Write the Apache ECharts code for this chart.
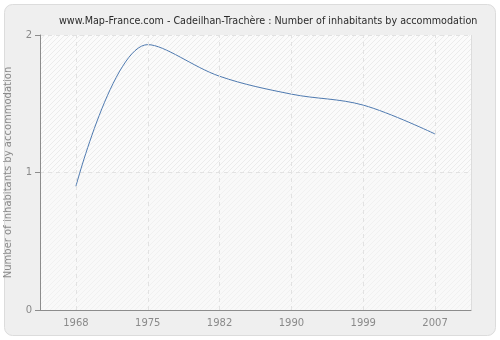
<!DOCTYPE html>
<html lang="en">
  <head>
    <meta charset="UTF-8" />
    <title>Cadeilhan-Trachère</title>
    <style>
      * {
        margin: 0;
        padding: 0;
      }
      body {
        background: #ffffff;
      }
    </style>
  </head>
  <body>
    <div id="main" style="width: 500px; height: 340px;"></div>
    <script src="https://cdn.jsdelivr.net/npm/echarts@6/dist/echarts.min.js"></script>
    <script>
      // data
      let years = ["1968", "1975", "1982", "1990", "1999", "2007"];
      let values = [0.9, 1.93, 1.7, 1.57, 1.49, 1.28];
      let yTicks = [0, 1, 2];

      // hatch pattern for the plot background
      function hatch(bg, line) {
        let c = document.createElement("canvas");
        c.width = 5;
        c.height = 5;
        let ctx = c.getContext("2d");
        ctx.fillStyle = bg;
        ctx.fillRect(0, 0, 5, 5);
        ctx.strokeStyle = line;
        ctx.lineWidth = 1;
        ctx.beginPath();
        ctx.moveTo(0, 5);
        ctx.lineTo(5, 0);
        ctx.moveTo(-1, 1);
        ctx.lineTo(1, -1);
        ctx.moveTo(4, 6);
        ctx.lineTo(6, 4);
        ctx.stroke();
        return c;
      }

      function draw() {
        let myEcharts = echarts.init(document.getElementById("main"));
        let option = {
          backgroundColor: "#ffffff",
          animation: false,
          graphic: [
            {
              type: "rect",
              z: -10,
              shape: { x: 4.5, y: 4.5, width: 491, height: 331, r: 8 },
              style: { fill: "#efefef", stroke: "#dcdcdc", lineWidth: 1 },
            },
            {
              type: "rect",
              z: -9,
              shape: { x: 40, y: 35, width: 431, height: 137.5 },
              style: { fill: { image: hatch("#fbfbfb", "#ececec"), repeat: "repeat" } },
            },
            {
              type: "rect",
              z: -9,
              shape: { x: 40, y: 172.5, width: 431, height: 137.5 },
              style: { fill: { image: hatch("#f9f9f9", "#f1f1f1"), repeat: "repeat" } },
            },
            {
              type: "line",
              z: -8,
              shape: { x1: 471.5, y1: 35, x2: 471.5, y2: 310 },
              style: { stroke: "#dddddd", lineWidth: 1 },
            },
          ],
          title: {
            text: "www.Map-France.com - Cadeilhan-Trachère : Number of inhabitants by accommodation",
            left: 54,
            top: 11,
            textStyle: {
              fontFamily: "DejaVu Sans",
              fontSize: 9.6,
              fontWeight: "normal",
              color: "#2a2a2a",
            },
          },
          grid: {
            left: 40,
            right: 29,
            top: 35,
            bottom: 30,
            outerBoundsMode: "none",
            containLabel: false,
          },
          xAxis: {
            type: "category",
            data: years,
            boundaryGap: true,
            axisLine: { lineStyle: { color: "#8c8c8c" } },
            axisTick: { alignWithLabel: true, lineStyle: { color: "#8c8c8c" }, length: 5 },
            axisLabel: {
              color: "#8a8a8a",
              fontFamily: "DejaVu Sans",
              fontSize: 10,
              margin: 8,
              interval: 0,
            },
            splitLine: { show: false },
          },
          yAxis: {
            type: "value",
            min: 0,
            max: 2,
            interval: 1,
            name: "Number of inhabitants by accommodation",
            nameLocation: "middle",
            nameGap: 27,
            nameMoveOverlap: false,
            nameTextStyle: {
              color: "#8a8a8a",
              fontFamily: "DejaVu Sans",
              fontSize: 10,
            },
            axisLine: { show: true, lineStyle: { color: "#8c8c8c" } },
            axisTick: { show: true, length: 5, lineStyle: { color: "#8c8c8c" } },
            axisLabel: {
              color: "#8a8a8a",
              fontFamily: "DejaVu Sans",
              fontSize: 10,
              margin: 8,
              formatter: function (v) {
                return yTicks.indexOf(v) >= 0 ? String(v) : "";
              },
            },
            splitLine: {
              show: true,
              lineStyle: { color: "#e2e2e2", type: [4, 4] },
            },
          },
          series: [
            {
              type: "line",
              data: values,
              smooth: 0.35,
              showSymbol: false,
              lineStyle: { color: "#4f7ab0", width: 1 },
              // vertical dashed gridlines at each year
              markLine: {
                silent: true,
                symbol: "none",
                label: { show: false },
                lineStyle: { color: "#e2e2e2", type: [4, 4], width: 1 },
                data: years.map(function (y) {
                  return { xAxis: y };
                }),
              },
            },
          ],
        };
        myEcharts.setOption(option);
      }
      draw();
    </script>
  </body>
</html>
